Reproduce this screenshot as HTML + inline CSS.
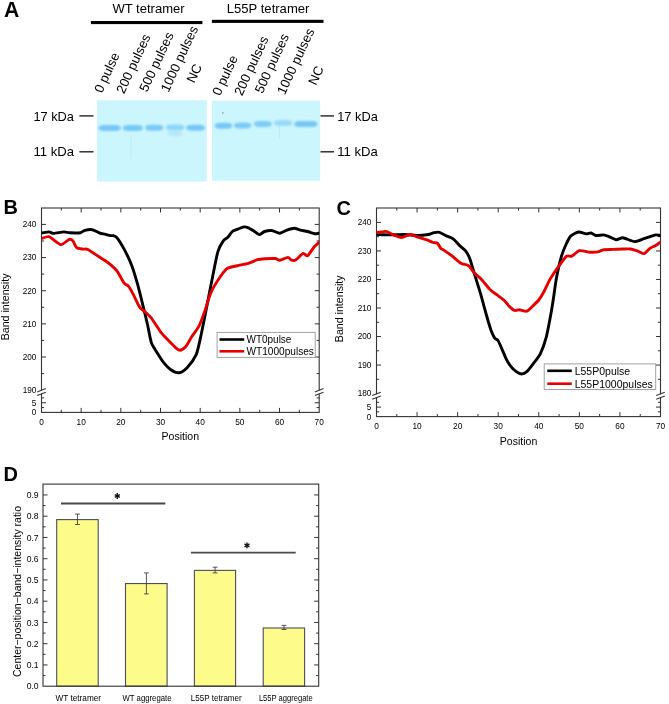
<!DOCTYPE html>
<html><head><meta charset="utf-8"><style>
html,body{margin:0;padding:0;background:#fff;width:669px;height:704px;overflow:hidden}
svg{display:block;will-change:transform}
text{font-family:"Liberation Sans", sans-serif}
</style></head><body>
<svg width="669" height="704" viewBox="0 0 669 704">
<text x="4.10" y="17.00" font-size="21.2" text-anchor="start" font-weight="bold" fill="#000">A</text>
<text x="112.40" y="13.00" font-size="13" text-anchor="start" textLength="72.3" lengthAdjust="spacingAndGlyphs">WT tetramer</text>
<rect x="90.9" y="21" width="111.5" height="3.1" fill="#000"/>
<text x="226.80" y="13.00" font-size="13" text-anchor="start" textLength="82.6" lengthAdjust="spacingAndGlyphs">L55P tetramer</text>
<rect x="211.9" y="19.8" width="111.6" height="3.1" fill="#000"/>
<text x="101.90" y="93.70" font-size="13.2" text-anchor="start" transform="rotate(-65 101.90 93.70)">0 pulse</text>
<text x="123.90" y="94.50" font-size="13.2" text-anchor="start" transform="rotate(-65 123.90 94.50)">200 pulses</text>
<text x="147.00" y="92.70" font-size="13.2" text-anchor="start" transform="rotate(-65 147.00 92.70)">500 pulses</text>
<text x="168.40" y="92.90" font-size="13.2" text-anchor="start" transform="rotate(-65 168.40 92.90)">1000 pulses</text>
<text x="194.20" y="83.80" font-size="13.2" text-anchor="start" transform="rotate(-65 194.20 83.80)">NC</text>
<text x="220.10" y="96.50" font-size="13.2" text-anchor="start" transform="rotate(-65 220.10 96.50)">0 pulse</text>
<text x="241.90" y="96.60" font-size="13.2" text-anchor="start" transform="rotate(-65 241.90 96.60)">200 pulses</text>
<text x="262.40" y="94.20" font-size="13.2" text-anchor="start" transform="rotate(-65 262.40 94.20)">500 pulses</text>
<text x="284.70" y="95.40" font-size="13.2" text-anchor="start" transform="rotate(-65 284.70 95.40)">1000 pulses</text>
<text x="316.00" y="85.90" font-size="13.2" text-anchor="start" transform="rotate(-65 316.00 85.90)">NC</text>
<defs><filter id="bl" x="-30%" y="-100%" width="160%" height="300%"><feGaussianBlur stdDeviation="1.2 0.9"/></filter><filter id="bl2" x="-20%" y="-100%" width="140%" height="300%"><feGaussianBlur stdDeviation="0.8"/></filter></defs>
<rect x="97" y="100.2" width="109.8" height="81.3" fill="#ccf6fd"/>
<rect x="212" y="100.7" width="108" height="80" fill="#ccf6fd"/>
<path d="M98.40,128.00 Q98.40,125.00 104.40,125.00 L114.80,125.00 Q120.80,125.00 120.80,128.00 Q120.80,131.00 114.80,131.00 L104.40,131.00 Q98.40,131.00 98.40,128.00 Z" fill="#76c7f7" opacity="1.0" filter="url(#bl)"/>
<path d="M122.80,127.90 Q122.80,124.90 128.80,124.90 L136.80,124.90 Q142.80,124.90 142.80,127.90 Q142.80,130.90 136.80,130.90 L128.80,130.90 Q122.80,130.90 122.80,127.90 Z" fill="#76c7f7" opacity="1.0" filter="url(#bl)"/>
<path d="M145.20,127.70 Q145.20,124.70 151.20,124.70 L157.40,124.70 Q163.40,124.70 163.40,127.70 Q163.40,130.70 157.40,130.70 L151.20,130.70 Q145.20,130.70 145.20,127.70 Z" fill="#76c7f7" opacity="0.95" filter="url(#bl)"/>
<path d="M165.80,127.60 Q165.80,124.60 171.80,124.60 L178.40,124.60 Q184.40,124.60 184.40,127.60 Q184.40,130.60 178.40,130.60 L171.80,130.60 Q165.80,130.60 165.80,127.60 Z" fill="#76c7f7" opacity="0.7" filter="url(#bl)"/>
<path d="M186.10,127.70 Q186.10,124.70 192.10,124.70 L199.00,124.70 Q205.00,124.70 205.00,127.70 Q205.00,130.70 199.00,130.70 L192.10,130.70 Q186.10,130.70 186.10,127.70 Z" fill="#76c7f7" opacity="1.0" filter="url(#bl)"/>
<path d="M214.80,125.70 Q214.80,122.70 220.80,122.70 L226.30,122.70 Q232.30,122.70 232.30,125.70 Q232.30,128.70 226.30,128.70 L220.80,128.70 Q214.80,128.70 214.80,125.70 Z" fill="#76c7f7" opacity="1.0" filter="url(#bl)"/>
<path d="M234.00,125.40 Q234.00,122.40 240.00,122.40 L245.30,122.40 Q251.30,122.40 251.30,125.40 Q251.30,128.40 245.30,128.40 L240.00,128.40 Q234.00,128.40 234.00,125.40 Z" fill="#76c7f7" opacity="0.95" filter="url(#bl)"/>
<path d="M253.80,124.00 Q253.80,121.00 259.80,121.00 L265.90,121.00 Q271.90,121.00 271.90,124.00 Q271.90,127.00 265.90,127.00 L259.80,127.00 Q253.80,127.00 253.80,124.00 Z" fill="#76c7f7" opacity="0.9" filter="url(#bl)"/>
<path d="M274.00,123.00 Q274.00,120.00 280.00,120.00 L286.20,120.00 Q292.20,120.00 292.20,123.00 Q292.20,126.00 286.20,126.00 L280.00,126.00 Q274.00,126.00 274.00,123.00 Z" fill="#76c7f7" opacity="0.6" filter="url(#bl)"/>
<path d="M294.20,124.00 Q294.20,121.00 300.20,121.00 L311.40,121.00 Q317.40,121.00 317.40,124.00 Q317.40,127.00 311.40,127.00 L300.20,127.00 Q294.20,127.00 294.20,124.00 Z" fill="#76c7f7" opacity="1.0" filter="url(#bl)"/>
<line x1="131.1" y1="135.5" x2="130.8" y2="158.5" stroke="#9ad6f4" stroke-width="0.8" opacity="0.45"/>
<ellipse cx="175" cy="133.5" rx="8" ry="3" fill="#a8def6" opacity="0.6" filter="url(#bl)"/>
<line x1="279.3" y1="126" x2="279.5" y2="138.5" stroke="#9ad6f4" stroke-width="0.8" opacity="0.45"/>
<circle cx="222.9" cy="112.9" r="0.6" fill="#557"/>
<line x1="79.40" y1="115.90" x2="93.50" y2="115.90" stroke="#222" stroke-width="1.4" stroke-linecap="butt"/>
<line x1="79.40" y1="151.80" x2="93.50" y2="151.80" stroke="#222" stroke-width="1.4" stroke-linecap="butt"/>
<text x="74.00" y="120.90" font-size="13" text-anchor="end" textLength="40.6" lengthAdjust="spacingAndGlyphs">17 kDa</text>
<text x="74.00" y="156.20" font-size="13" text-anchor="end" textLength="40.6" lengthAdjust="spacingAndGlyphs">11 kDa</text>
<line x1="320.50" y1="115.90" x2="334.00" y2="115.90" stroke="#222" stroke-width="1.4" stroke-linecap="butt"/>
<line x1="320.50" y1="151.80" x2="334.00" y2="151.80" stroke="#222" stroke-width="1.4" stroke-linecap="butt"/>
<text x="337.20" y="120.90" font-size="13" text-anchor="start" textLength="40.6" lengthAdjust="spacingAndGlyphs">17 kDa</text>
<text x="337.20" y="156.20" font-size="13" text-anchor="start" textLength="40.6" lengthAdjust="spacingAndGlyphs">11 kDa</text>
<rect x="41.5" y="208.0" width="277.7" height="204.39999999999998" fill="none" stroke="#333" stroke-width="1.1"/>
<line x1="61.34" y1="412.40" x2="61.34" y2="409.80" stroke="#333" stroke-width="1" stroke-linecap="butt"/>
<line x1="61.34" y1="208.00" x2="61.34" y2="210.60" stroke="#333" stroke-width="1" stroke-linecap="butt"/>
<line x1="81.17" y1="412.40" x2="81.17" y2="407.90" stroke="#333" stroke-width="1" stroke-linecap="butt"/>
<line x1="81.17" y1="208.00" x2="81.17" y2="212.50" stroke="#333" stroke-width="1" stroke-linecap="butt"/>
<line x1="101.01" y1="412.40" x2="101.01" y2="409.80" stroke="#333" stroke-width="1" stroke-linecap="butt"/>
<line x1="101.01" y1="208.00" x2="101.01" y2="210.60" stroke="#333" stroke-width="1" stroke-linecap="butt"/>
<line x1="120.84" y1="412.40" x2="120.84" y2="407.90" stroke="#333" stroke-width="1" stroke-linecap="butt"/>
<line x1="120.84" y1="208.00" x2="120.84" y2="212.50" stroke="#333" stroke-width="1" stroke-linecap="butt"/>
<line x1="140.68" y1="412.40" x2="140.68" y2="409.80" stroke="#333" stroke-width="1" stroke-linecap="butt"/>
<line x1="140.68" y1="208.00" x2="140.68" y2="210.60" stroke="#333" stroke-width="1" stroke-linecap="butt"/>
<line x1="160.51" y1="412.40" x2="160.51" y2="407.90" stroke="#333" stroke-width="1" stroke-linecap="butt"/>
<line x1="160.51" y1="208.00" x2="160.51" y2="212.50" stroke="#333" stroke-width="1" stroke-linecap="butt"/>
<line x1="180.35" y1="412.40" x2="180.35" y2="409.80" stroke="#333" stroke-width="1" stroke-linecap="butt"/>
<line x1="180.35" y1="208.00" x2="180.35" y2="210.60" stroke="#333" stroke-width="1" stroke-linecap="butt"/>
<line x1="200.19" y1="412.40" x2="200.19" y2="407.90" stroke="#333" stroke-width="1" stroke-linecap="butt"/>
<line x1="200.19" y1="208.00" x2="200.19" y2="212.50" stroke="#333" stroke-width="1" stroke-linecap="butt"/>
<line x1="220.02" y1="412.40" x2="220.02" y2="409.80" stroke="#333" stroke-width="1" stroke-linecap="butt"/>
<line x1="220.02" y1="208.00" x2="220.02" y2="210.60" stroke="#333" stroke-width="1" stroke-linecap="butt"/>
<line x1="239.86" y1="412.40" x2="239.86" y2="407.90" stroke="#333" stroke-width="1" stroke-linecap="butt"/>
<line x1="239.86" y1="208.00" x2="239.86" y2="212.50" stroke="#333" stroke-width="1" stroke-linecap="butt"/>
<line x1="259.69" y1="412.40" x2="259.69" y2="409.80" stroke="#333" stroke-width="1" stroke-linecap="butt"/>
<line x1="259.69" y1="208.00" x2="259.69" y2="210.60" stroke="#333" stroke-width="1" stroke-linecap="butt"/>
<line x1="279.53" y1="412.40" x2="279.53" y2="407.90" stroke="#333" stroke-width="1" stroke-linecap="butt"/>
<line x1="279.53" y1="208.00" x2="279.53" y2="212.50" stroke="#333" stroke-width="1" stroke-linecap="butt"/>
<line x1="299.36" y1="412.40" x2="299.36" y2="409.80" stroke="#333" stroke-width="1" stroke-linecap="butt"/>
<line x1="299.36" y1="208.00" x2="299.36" y2="210.60" stroke="#333" stroke-width="1" stroke-linecap="butt"/>
<text x="41.50" y="425.00" font-size="8.3" text-anchor="middle">0</text>
<text x="81.17" y="425.00" font-size="8.3" text-anchor="middle">10</text>
<text x="120.84" y="425.00" font-size="8.3" text-anchor="middle">20</text>
<text x="160.51" y="425.00" font-size="8.3" text-anchor="middle">30</text>
<text x="200.19" y="425.00" font-size="8.3" text-anchor="middle">40</text>
<text x="239.86" y="425.00" font-size="8.3" text-anchor="middle">50</text>
<text x="279.53" y="425.00" font-size="8.3" text-anchor="middle">60</text>
<text x="319.20" y="425.00" font-size="8.3" text-anchor="middle">70</text>
<line x1="41.50" y1="373.58" x2="44.10" y2="373.58" stroke="#333" stroke-width="1" stroke-linecap="butt"/>
<line x1="319.20" y1="373.58" x2="316.60" y2="373.58" stroke="#333" stroke-width="1" stroke-linecap="butt"/>
<line x1="41.50" y1="357.00" x2="46.00" y2="357.00" stroke="#333" stroke-width="1" stroke-linecap="butt"/>
<line x1="319.20" y1="357.00" x2="314.70" y2="357.00" stroke="#333" stroke-width="1" stroke-linecap="butt"/>
<text x="36.30" y="359.90" font-size="8.2" text-anchor="end">200</text>
<line x1="41.50" y1="340.43" x2="44.10" y2="340.43" stroke="#333" stroke-width="1" stroke-linecap="butt"/>
<line x1="319.20" y1="340.43" x2="316.60" y2="340.43" stroke="#333" stroke-width="1" stroke-linecap="butt"/>
<line x1="41.50" y1="323.85" x2="46.00" y2="323.85" stroke="#333" stroke-width="1" stroke-linecap="butt"/>
<line x1="319.20" y1="323.85" x2="314.70" y2="323.85" stroke="#333" stroke-width="1" stroke-linecap="butt"/>
<text x="36.30" y="326.75" font-size="8.2" text-anchor="end">210</text>
<line x1="41.50" y1="307.27" x2="44.10" y2="307.27" stroke="#333" stroke-width="1" stroke-linecap="butt"/>
<line x1="319.20" y1="307.27" x2="316.60" y2="307.27" stroke="#333" stroke-width="1" stroke-linecap="butt"/>
<line x1="41.50" y1="290.70" x2="46.00" y2="290.70" stroke="#333" stroke-width="1" stroke-linecap="butt"/>
<line x1="319.20" y1="290.70" x2="314.70" y2="290.70" stroke="#333" stroke-width="1" stroke-linecap="butt"/>
<text x="36.30" y="293.60" font-size="8.2" text-anchor="end">220</text>
<line x1="41.50" y1="274.12" x2="44.10" y2="274.12" stroke="#333" stroke-width="1" stroke-linecap="butt"/>
<line x1="319.20" y1="274.12" x2="316.60" y2="274.12" stroke="#333" stroke-width="1" stroke-linecap="butt"/>
<line x1="41.50" y1="257.55" x2="46.00" y2="257.55" stroke="#333" stroke-width="1" stroke-linecap="butt"/>
<line x1="319.20" y1="257.55" x2="314.70" y2="257.55" stroke="#333" stroke-width="1" stroke-linecap="butt"/>
<text x="36.30" y="260.45" font-size="8.2" text-anchor="end">230</text>
<line x1="41.50" y1="240.97" x2="44.10" y2="240.97" stroke="#333" stroke-width="1" stroke-linecap="butt"/>
<line x1="319.20" y1="240.97" x2="316.60" y2="240.97" stroke="#333" stroke-width="1" stroke-linecap="butt"/>
<line x1="41.50" y1="224.40" x2="46.00" y2="224.40" stroke="#333" stroke-width="1" stroke-linecap="butt"/>
<line x1="319.20" y1="224.40" x2="314.70" y2="224.40" stroke="#333" stroke-width="1" stroke-linecap="butt"/>
<text x="36.30" y="227.30" font-size="8.2" text-anchor="end">240</text>
<line x1="41.50" y1="407.57" x2="44.10" y2="407.57" stroke="#333" stroke-width="1" stroke-linecap="butt"/>
<line x1="319.20" y1="407.57" x2="316.60" y2="407.57" stroke="#333" stroke-width="1" stroke-linecap="butt"/>
<line x1="41.50" y1="402.75" x2="46.00" y2="402.75" stroke="#333" stroke-width="1" stroke-linecap="butt"/>
<line x1="319.20" y1="402.75" x2="314.70" y2="402.75" stroke="#333" stroke-width="1" stroke-linecap="butt"/>
<line x1="41.50" y1="397.92" x2="44.10" y2="397.92" stroke="#333" stroke-width="1" stroke-linecap="butt"/>
<line x1="319.20" y1="397.92" x2="316.60" y2="397.92" stroke="#333" stroke-width="1" stroke-linecap="butt"/>
<text x="36.30" y="393.05" font-size="8.2" text-anchor="end">190</text>
<text x="36.30" y="405.65" font-size="8.2" text-anchor="end">5</text>
<text x="36.30" y="415.30" font-size="8.2" text-anchor="end">0</text>
<polygon points="37.2,392.2 45.8,388.8 45.8,391.9 37.2,395.29999999999995" fill="#fff"/>
<line x1="37.20" y1="391.90" x2="45.80" y2="388.50" stroke="#333" stroke-width="1.1" stroke-linecap="butt"/>
<line x1="37.20" y1="395.60" x2="45.80" y2="392.20" stroke="#333" stroke-width="1.1" stroke-linecap="butt"/>
<polygon points="314.9,392.2 323.5,388.8 323.5,391.9 314.9,395.29999999999995" fill="#fff"/>
<line x1="314.90" y1="391.90" x2="323.50" y2="388.50" stroke="#333" stroke-width="1.1" stroke-linecap="butt"/>
<line x1="314.90" y1="395.60" x2="323.50" y2="392.20" stroke="#333" stroke-width="1.1" stroke-linecap="butt"/>
<text x="3.40" y="213.80" font-size="20.0" text-anchor="start" font-weight="bold" fill="#000">B</text>
<text x="9.10" y="306.90" font-size="10.5" text-anchor="middle" textLength="66.8" lengthAdjust="spacingAndGlyphs" transform="rotate(-90 9.1 306.9)">Band intensity</text>
<text x="180.35" y="439.90" font-size="10.5" text-anchor="middle" textLength="37.5" lengthAdjust="spacingAndGlyphs">Position</text>
<rect x="376.5" y="208.0" width="284.0" height="208.60000000000002" fill="none" stroke="#333" stroke-width="1.1"/>
<line x1="396.79" y1="416.60" x2="396.79" y2="414.00" stroke="#333" stroke-width="1" stroke-linecap="butt"/>
<line x1="396.79" y1="208.00" x2="396.79" y2="210.60" stroke="#333" stroke-width="1" stroke-linecap="butt"/>
<line x1="417.07" y1="416.60" x2="417.07" y2="412.10" stroke="#333" stroke-width="1" stroke-linecap="butt"/>
<line x1="417.07" y1="208.00" x2="417.07" y2="212.50" stroke="#333" stroke-width="1" stroke-linecap="butt"/>
<line x1="437.36" y1="416.60" x2="437.36" y2="414.00" stroke="#333" stroke-width="1" stroke-linecap="butt"/>
<line x1="437.36" y1="208.00" x2="437.36" y2="210.60" stroke="#333" stroke-width="1" stroke-linecap="butt"/>
<line x1="457.64" y1="416.60" x2="457.64" y2="412.10" stroke="#333" stroke-width="1" stroke-linecap="butt"/>
<line x1="457.64" y1="208.00" x2="457.64" y2="212.50" stroke="#333" stroke-width="1" stroke-linecap="butt"/>
<line x1="477.93" y1="416.60" x2="477.93" y2="414.00" stroke="#333" stroke-width="1" stroke-linecap="butt"/>
<line x1="477.93" y1="208.00" x2="477.93" y2="210.60" stroke="#333" stroke-width="1" stroke-linecap="butt"/>
<line x1="498.21" y1="416.60" x2="498.21" y2="412.10" stroke="#333" stroke-width="1" stroke-linecap="butt"/>
<line x1="498.21" y1="208.00" x2="498.21" y2="212.50" stroke="#333" stroke-width="1" stroke-linecap="butt"/>
<line x1="518.50" y1="416.60" x2="518.50" y2="414.00" stroke="#333" stroke-width="1" stroke-linecap="butt"/>
<line x1="518.50" y1="208.00" x2="518.50" y2="210.60" stroke="#333" stroke-width="1" stroke-linecap="butt"/>
<line x1="538.79" y1="416.60" x2="538.79" y2="412.10" stroke="#333" stroke-width="1" stroke-linecap="butt"/>
<line x1="538.79" y1="208.00" x2="538.79" y2="212.50" stroke="#333" stroke-width="1" stroke-linecap="butt"/>
<line x1="559.07" y1="416.60" x2="559.07" y2="414.00" stroke="#333" stroke-width="1" stroke-linecap="butt"/>
<line x1="559.07" y1="208.00" x2="559.07" y2="210.60" stroke="#333" stroke-width="1" stroke-linecap="butt"/>
<line x1="579.36" y1="416.60" x2="579.36" y2="412.10" stroke="#333" stroke-width="1" stroke-linecap="butt"/>
<line x1="579.36" y1="208.00" x2="579.36" y2="212.50" stroke="#333" stroke-width="1" stroke-linecap="butt"/>
<line x1="599.64" y1="416.60" x2="599.64" y2="414.00" stroke="#333" stroke-width="1" stroke-linecap="butt"/>
<line x1="599.64" y1="208.00" x2="599.64" y2="210.60" stroke="#333" stroke-width="1" stroke-linecap="butt"/>
<line x1="619.93" y1="416.60" x2="619.93" y2="412.10" stroke="#333" stroke-width="1" stroke-linecap="butt"/>
<line x1="619.93" y1="208.00" x2="619.93" y2="212.50" stroke="#333" stroke-width="1" stroke-linecap="butt"/>
<line x1="640.21" y1="416.60" x2="640.21" y2="414.00" stroke="#333" stroke-width="1" stroke-linecap="butt"/>
<line x1="640.21" y1="208.00" x2="640.21" y2="210.60" stroke="#333" stroke-width="1" stroke-linecap="butt"/>
<text x="376.50" y="429.20" font-size="8.3" text-anchor="middle">0</text>
<text x="417.07" y="429.20" font-size="8.3" text-anchor="middle">10</text>
<text x="457.64" y="429.20" font-size="8.3" text-anchor="middle">20</text>
<text x="498.21" y="429.20" font-size="8.3" text-anchor="middle">30</text>
<text x="538.79" y="429.20" font-size="8.3" text-anchor="middle">40</text>
<text x="579.36" y="429.20" font-size="8.3" text-anchor="middle">50</text>
<text x="619.93" y="429.20" font-size="8.3" text-anchor="middle">60</text>
<text x="660.50" y="429.20" font-size="8.3" text-anchor="middle">70</text>
<line x1="376.50" y1="379.32" x2="379.10" y2="379.32" stroke="#333" stroke-width="1" stroke-linecap="butt"/>
<line x1="660.50" y1="379.32" x2="657.90" y2="379.32" stroke="#333" stroke-width="1" stroke-linecap="butt"/>
<line x1="376.50" y1="365.05" x2="381.00" y2="365.05" stroke="#333" stroke-width="1" stroke-linecap="butt"/>
<line x1="660.50" y1="365.05" x2="656.00" y2="365.05" stroke="#333" stroke-width="1" stroke-linecap="butt"/>
<text x="371.30" y="367.95" font-size="8.2" text-anchor="end">190</text>
<line x1="376.50" y1="350.79" x2="379.10" y2="350.79" stroke="#333" stroke-width="1" stroke-linecap="butt"/>
<line x1="660.50" y1="350.79" x2="657.90" y2="350.79" stroke="#333" stroke-width="1" stroke-linecap="butt"/>
<line x1="376.50" y1="336.52" x2="381.00" y2="336.52" stroke="#333" stroke-width="1" stroke-linecap="butt"/>
<line x1="660.50" y1="336.52" x2="656.00" y2="336.52" stroke="#333" stroke-width="1" stroke-linecap="butt"/>
<text x="371.30" y="339.42" font-size="8.2" text-anchor="end">200</text>
<line x1="376.50" y1="322.25" x2="379.10" y2="322.25" stroke="#333" stroke-width="1" stroke-linecap="butt"/>
<line x1="660.50" y1="322.25" x2="657.90" y2="322.25" stroke="#333" stroke-width="1" stroke-linecap="butt"/>
<line x1="376.50" y1="307.99" x2="381.00" y2="307.99" stroke="#333" stroke-width="1" stroke-linecap="butt"/>
<line x1="660.50" y1="307.99" x2="656.00" y2="307.99" stroke="#333" stroke-width="1" stroke-linecap="butt"/>
<text x="371.30" y="310.89" font-size="8.2" text-anchor="end">210</text>
<line x1="376.50" y1="293.73" x2="379.10" y2="293.73" stroke="#333" stroke-width="1" stroke-linecap="butt"/>
<line x1="660.50" y1="293.73" x2="657.90" y2="293.73" stroke="#333" stroke-width="1" stroke-linecap="butt"/>
<line x1="376.50" y1="279.46" x2="381.00" y2="279.46" stroke="#333" stroke-width="1" stroke-linecap="butt"/>
<line x1="660.50" y1="279.46" x2="656.00" y2="279.46" stroke="#333" stroke-width="1" stroke-linecap="butt"/>
<text x="371.30" y="282.36" font-size="8.2" text-anchor="end">220</text>
<line x1="376.50" y1="265.19" x2="379.10" y2="265.19" stroke="#333" stroke-width="1" stroke-linecap="butt"/>
<line x1="660.50" y1="265.19" x2="657.90" y2="265.19" stroke="#333" stroke-width="1" stroke-linecap="butt"/>
<line x1="376.50" y1="250.93" x2="381.00" y2="250.93" stroke="#333" stroke-width="1" stroke-linecap="butt"/>
<line x1="660.50" y1="250.93" x2="656.00" y2="250.93" stroke="#333" stroke-width="1" stroke-linecap="butt"/>
<text x="371.30" y="253.83" font-size="8.2" text-anchor="end">230</text>
<line x1="376.50" y1="236.67" x2="379.10" y2="236.67" stroke="#333" stroke-width="1" stroke-linecap="butt"/>
<line x1="660.50" y1="236.67" x2="657.90" y2="236.67" stroke="#333" stroke-width="1" stroke-linecap="butt"/>
<line x1="376.50" y1="222.40" x2="381.00" y2="222.40" stroke="#333" stroke-width="1" stroke-linecap="butt"/>
<line x1="660.50" y1="222.40" x2="656.00" y2="222.40" stroke="#333" stroke-width="1" stroke-linecap="butt"/>
<text x="371.30" y="225.30" font-size="8.2" text-anchor="end">240</text>
<line x1="376.50" y1="411.85" x2="379.10" y2="411.85" stroke="#333" stroke-width="1" stroke-linecap="butt"/>
<line x1="660.50" y1="411.85" x2="657.90" y2="411.85" stroke="#333" stroke-width="1" stroke-linecap="butt"/>
<line x1="376.50" y1="407.10" x2="381.00" y2="407.10" stroke="#333" stroke-width="1" stroke-linecap="butt"/>
<line x1="660.50" y1="407.10" x2="656.00" y2="407.10" stroke="#333" stroke-width="1" stroke-linecap="butt"/>
<line x1="376.50" y1="402.35" x2="379.10" y2="402.35" stroke="#333" stroke-width="1" stroke-linecap="butt"/>
<line x1="660.50" y1="402.35" x2="657.90" y2="402.35" stroke="#333" stroke-width="1" stroke-linecap="butt"/>
<text x="371.30" y="396.48" font-size="8.2" text-anchor="end">180</text>
<text x="371.30" y="410.00" font-size="8.2" text-anchor="end">5</text>
<text x="371.30" y="419.50" font-size="8.2" text-anchor="end">0</text>
<polygon points="372.2,395.9 380.8,392.5 380.8,395.6 372.2,399.0" fill="#fff"/>
<line x1="372.20" y1="395.60" x2="380.80" y2="392.20" stroke="#333" stroke-width="1.1" stroke-linecap="butt"/>
<line x1="372.20" y1="399.30" x2="380.80" y2="395.90" stroke="#333" stroke-width="1.1" stroke-linecap="butt"/>
<polygon points="656.2,395.9 664.8,392.5 664.8,395.6 656.2,399.0" fill="#fff"/>
<line x1="656.20" y1="395.60" x2="664.80" y2="392.20" stroke="#333" stroke-width="1.1" stroke-linecap="butt"/>
<line x1="656.20" y1="399.30" x2="664.80" y2="395.90" stroke="#333" stroke-width="1.1" stroke-linecap="butt"/>
<text x="336.40" y="214.50" font-size="20.0" text-anchor="start" font-weight="bold" fill="#000">C</text>
<text x="343.50" y="308.80" font-size="10.5" text-anchor="middle" textLength="66.8" lengthAdjust="spacingAndGlyphs" transform="rotate(-90 343.5 308.8)">Band intensity</text>
<text x="518.50" y="444.70" font-size="10.5" text-anchor="middle" textLength="37.5" lengthAdjust="spacingAndGlyphs">Position</text>
<defs><clipPath id="cB"><rect x="41.5" y="208.0" width="277.7" height="204.39999999999998"/></clipPath><clipPath id="cC"><rect x="376.5" y="208.0" width="284.0" height="208.60000000000002"/></clipPath></defs>
<path d="M38.50,233.10 C38.85,233.10 40.27,233.24 41.50,233.10 C42.73,232.96 47.60,231.87 49.00,231.90 C50.40,231.94 51.76,233.40 53.50,233.40 C55.24,233.40 61.99,231.97 63.90,231.90 C65.81,231.83 67.98,232.71 69.90,232.80 C71.83,232.89 78.66,232.98 80.40,232.70 C82.14,232.42 83.41,230.75 84.80,230.40 C86.19,230.05 90.55,229.38 92.30,229.70 C94.05,230.01 98.32,232.57 99.80,233.10 C101.28,233.62 103.78,233.91 105.00,234.20 C106.22,234.49 109.31,235.42 110.30,235.60 C111.29,235.78 112.71,235.44 113.50,235.70 C114.29,235.96 115.77,236.06 117.10,237.80 C118.43,239.54 123.16,247.29 124.90,250.60 C126.64,253.91 130.51,262.22 132.00,266.20 C133.49,270.18 136.37,279.89 137.70,284.70 C139.03,289.51 142.25,302.70 143.40,307.40 C144.56,312.10 146.67,320.87 147.60,325.00 C148.53,329.13 150.26,339.51 151.40,342.80 C152.54,346.09 156.01,350.94 157.40,353.20 C158.79,355.46 161.74,360.27 163.30,362.20 C164.86,364.12 168.97,368.47 170.80,369.70 C172.63,370.93 177.07,372.97 179.00,372.70 C180.93,372.43 185.29,369.50 187.30,367.40 C189.31,365.30 194.64,358.27 196.20,354.70 C197.76,351.13 199.47,342.38 200.70,336.80 C201.92,331.22 205.31,313.91 206.70,306.90 C208.09,299.89 211.29,283.15 212.60,276.70 C213.91,270.25 216.65,255.78 217.90,251.60 C219.15,247.42 222.15,242.57 223.30,240.90 C224.46,239.23 226.75,238.40 227.80,237.30 C228.85,236.20 231.15,232.44 232.30,231.50 C233.46,230.56 236.35,229.74 237.70,229.20 C239.05,228.66 242.65,227.06 243.90,226.90 C245.15,226.74 247.25,227.32 248.40,227.80 C249.56,228.28 252.54,230.21 253.80,231.00 C255.06,231.79 257.94,234.54 259.20,234.60 C260.46,234.66 263.14,231.98 264.60,231.50 C266.06,231.02 269.93,230.30 271.70,230.50 C273.47,230.70 278.01,233.25 279.80,233.20 C281.59,233.15 285.32,230.67 287.00,230.10 C288.68,229.53 292.64,228.30 294.20,228.30 C295.76,228.30 298.84,229.73 300.40,230.10 C301.96,230.47 305.92,231.08 307.60,231.50 C309.28,231.92 313.50,233.49 314.80,233.70 C316.10,233.91 317.89,233.35 318.70,233.30 C319.50,233.25 321.35,233.30 321.70,233.30" fill="none" stroke="#000" stroke-width="2.9" stroke-linejoin="round" stroke-linecap="round" clip-path="url(#cB)"/>
<path d="M38.50,239.10 C38.85,239.04 40.27,238.88 41.50,238.60 C42.73,238.32 46.74,236.00 49.00,236.70 C51.26,237.40 58.55,244.28 60.90,244.60 C63.24,244.91 67.70,239.83 69.10,239.40 C70.50,238.97 72.03,239.94 72.90,240.90 C73.78,241.86 75.39,246.64 76.60,247.60 C77.81,248.56 81.99,248.88 83.30,249.10 C84.61,249.32 85.88,248.54 87.80,249.50 C89.72,250.46 97.79,256.02 99.80,257.30 C101.81,258.58 103.73,259.62 105.00,260.50 C106.27,261.38 109.29,263.55 110.70,264.80 C112.11,266.05 115.52,269.05 117.10,271.20 C118.67,273.35 122.88,281.46 124.20,283.20 C125.52,284.94 127.33,284.77 128.40,286.10 C129.47,287.43 132.07,292.12 133.40,294.60 C134.73,297.09 138.47,305.42 139.80,307.40 C141.13,309.38 143.45,310.35 144.80,311.60 C146.15,312.85 149.58,315.77 151.40,318.10 C153.22,320.43 158.49,329.07 160.40,331.60 C162.31,334.13 166.06,337.97 167.80,339.80 C169.54,341.63 173.90,346.07 175.30,347.30 C176.70,348.53 178.58,350.39 179.80,350.30 C181.03,350.21 184.41,348.07 185.80,346.50 C187.19,344.93 190.14,339.24 191.70,336.80 C193.26,334.36 197.62,328.74 199.20,325.60 C200.77,322.46 203.85,313.71 205.20,309.90 C206.55,306.08 209.32,296.35 210.80,292.90 C212.28,289.45 216.02,283.12 217.90,280.30 C219.78,277.48 224.80,270.37 226.90,268.70 C229.00,267.03 233.39,266.63 235.90,266.00 C238.41,265.37 245.89,264.04 248.40,263.30 C250.91,262.56 255.51,260.22 257.40,259.70 C259.29,259.18 262.51,258.94 264.60,258.80 C266.69,258.66 273.53,258.34 275.30,258.50 C277.07,258.66 278.33,260.33 279.80,260.20 C281.27,260.07 286.53,257.40 287.90,257.40 C289.26,257.40 290.56,259.93 291.50,260.20 C292.44,260.47 294.65,260.49 296.00,259.70 C297.35,258.91 301.75,253.85 303.10,253.40 C304.45,252.95 306.34,256.52 307.60,255.80 C308.86,255.08 312.60,248.73 313.90,247.20 C315.19,245.67 317.79,243.52 318.70,242.70 C319.61,241.88 321.35,240.49 321.70,240.20" fill="none" stroke="#e60000" stroke-width="2.9" stroke-linejoin="round" stroke-linecap="round" clip-path="url(#cB)"/>
<path d="M373.60,234.50 C373.95,234.50 375.41,234.47 376.60,234.50 C377.79,234.53 381.91,234.77 383.80,234.80 C385.69,234.84 390.29,234.84 392.80,234.80 C395.31,234.77 402.58,234.43 405.30,234.50 C408.02,234.57 413.58,235.37 416.10,235.40 C418.62,235.44 424.81,235.12 426.90,234.80 C428.99,234.49 432.54,232.99 434.00,232.70 C435.46,232.41 438.00,231.95 439.40,232.30 C440.80,232.65 444.36,234.91 446.00,235.70 C447.64,236.49 451.94,237.97 453.50,239.10 C455.06,240.23 458.01,244.06 459.40,245.40 C460.79,246.74 464.17,249.03 465.40,250.60 C466.62,252.17 468.85,256.19 469.90,258.90 C470.95,261.61 473.17,269.80 474.40,273.80 C475.62,277.80 479.00,288.39 480.40,293.20 C481.80,298.01 485.17,310.72 486.40,315.00 C487.62,319.28 489.93,327.20 490.90,329.90 C491.87,332.59 493.82,336.79 494.70,338.10 C495.57,339.41 497.09,338.74 498.40,341.10 C499.71,343.46 504.50,355.42 505.90,358.30 C507.30,361.18 509.19,364.24 510.40,365.80 C511.61,367.36 514.99,370.74 516.30,371.70 C517.61,372.66 520.38,374.00 521.60,374.00 C522.83,374.00 525.49,372.83 526.80,371.70 C528.11,370.57 531.22,366.39 532.80,364.30 C534.38,362.21 538.74,356.94 540.30,353.80 C541.86,350.66 544.99,341.93 546.20,337.40 C547.41,332.87 549.88,319.36 550.70,315.00 C551.52,310.64 552.54,304.28 553.20,300.00 C553.87,295.72 555.47,283.31 556.40,278.30 C557.33,273.30 560.08,261.04 561.20,257.10 C562.32,253.16 564.87,246.97 566.00,244.50 C567.13,242.03 569.43,237.36 570.90,235.90 C572.37,234.44 576.80,232.23 578.60,232.00 C580.40,231.77 584.84,233.78 586.30,233.90 C587.76,234.02 589.98,232.81 591.10,233.00 C592.22,233.19 594.44,235.28 595.90,235.50 C597.36,235.72 602.02,234.75 603.60,234.90 C605.18,235.05 607.93,236.24 609.40,236.80 C610.87,237.36 614.62,239.58 616.20,239.70 C617.78,239.82 620.76,237.58 622.90,237.80 C625.03,238.02 632.03,241.50 634.50,241.60 C636.97,241.70 641.63,239.48 644.10,238.70 C646.57,237.92 653.86,235.27 655.70,234.90 C657.54,234.53 659.06,235.43 659.90,235.50 C660.74,235.57 662.55,235.50 662.90,235.50" fill="none" stroke="#000" stroke-width="2.9" stroke-linejoin="round" stroke-linecap="round" clip-path="url(#cC)"/>
<path d="M373.60,232.70 C373.95,232.70 375.20,232.85 376.60,232.70 C378.00,232.55 384.13,231.40 385.60,231.40 C387.07,231.40 388.15,232.23 389.20,232.70 C390.25,233.17 393.14,234.84 394.60,235.40 C396.06,235.96 399.82,237.60 401.70,237.50 C403.58,237.40 408.81,234.53 410.70,234.50 C412.59,234.47 416.01,236.58 417.90,237.20 C419.79,237.82 425.13,239.18 426.90,239.80 C428.67,240.42 431.85,242.08 433.10,242.50 C434.35,242.92 436.73,242.74 437.60,243.40 C438.48,244.06 439.80,247.36 440.60,248.20 C441.41,249.04 443.17,249.70 444.50,250.60 C445.83,251.50 450.09,254.42 452.00,255.90 C453.91,257.38 458.99,262.17 460.90,263.30 C462.81,264.43 466.82,264.46 468.40,265.60 C469.97,266.74 473.00,271.62 474.40,273.10 C475.80,274.58 478.49,276.29 480.40,278.30 C482.31,280.31 488.89,288.39 490.80,290.30 C492.71,292.21 495.23,293.51 496.80,294.70 C498.38,295.89 502.89,299.18 504.30,300.50 C505.71,301.82 507.68,304.83 508.90,306.00 C510.12,307.17 513.59,310.07 514.80,310.50 C516.01,310.93 517.90,309.62 519.30,309.70 C520.70,309.78 525.22,311.63 526.80,311.20 C528.38,310.77 531.40,307.31 532.80,306.00 C534.20,304.69 537.50,301.66 538.80,300.00 C540.09,298.34 542.52,294.33 543.90,291.80 C545.28,289.27 548.58,281.68 550.60,278.30 C552.62,274.92 559.29,265.39 561.20,262.80 C563.11,260.21 565.76,256.88 567.00,256.10 C568.24,255.32 570.34,256.73 571.80,256.10 C573.26,255.47 577.37,251.16 579.50,250.70 C581.63,250.24 587.95,252.06 590.10,252.20 C592.25,252.34 596.32,252.19 597.90,251.90 C599.48,251.61 601.80,249.99 603.60,249.70 C605.40,249.41 611.05,249.48 613.30,249.40 C615.55,249.32 620.88,249.05 622.90,249.00 C624.92,248.95 628.80,248.73 630.60,249.00 C632.40,249.27 636.72,250.76 638.30,251.30 C639.88,251.84 642.75,253.94 644.10,253.60 C645.45,253.26 648.55,249.34 649.90,248.40 C651.25,247.46 654.53,246.18 655.70,245.50 C656.87,244.82 659.06,243.11 659.90,242.60 C660.74,242.09 662.55,241.28 662.90,241.10" fill="none" stroke="#e60000" stroke-width="2.9" stroke-linejoin="round" stroke-linecap="round" clip-path="url(#cC)"/>
<rect x="217.1" y="332.4" width="98.1" height="25.0" fill="#fff" stroke="#999" stroke-width="0.9"/>
<line x1="219.50" y1="339.50" x2="244.20" y2="339.50" stroke="#000" stroke-width="2.6" stroke-linecap="butt"/>
<line x1="219.50" y1="351.30" x2="244.20" y2="351.30" stroke="#e60000" stroke-width="2.6" stroke-linecap="butt"/>
<text x="246.50" y="343.10" font-size="10.1" text-anchor="start" textLength="44.9" lengthAdjust="spacingAndGlyphs">WT0pulse</text>
<text x="246.50" y="355.40" font-size="10.1" text-anchor="start" textLength="67.4" lengthAdjust="spacingAndGlyphs">WT1000pulses</text>
<rect x="544.2" y="363.9" width="111.5" height="25.600000000000023" fill="#fff" stroke="#999" stroke-width="0.9"/>
<line x1="547.30" y1="370.80" x2="571.80" y2="370.80" stroke="#000" stroke-width="2.6" stroke-linecap="butt"/>
<line x1="547.30" y1="383.70" x2="571.80" y2="383.70" stroke="#e60000" stroke-width="2.6" stroke-linecap="butt"/>
<text x="574.70" y="375.00" font-size="10.1" text-anchor="start" textLength="55.5" lengthAdjust="spacingAndGlyphs">L55P0pulse</text>
<text x="574.70" y="387.80" font-size="10.1" text-anchor="start" textLength="78.1" lengthAdjust="spacingAndGlyphs">L55P1000pulses</text>
<text x="3.50" y="481.40" font-size="20.0" text-anchor="start" font-weight="bold" fill="#000">D</text>
<rect x="56.7" y="519.60" width="41.5" height="166.60" fill="#fdfb8a" stroke="#4d4d5a" stroke-width="1.1"/>
<rect x="125.5" y="583.56" width="41.599999999999994" height="102.64" fill="#fdfb8a" stroke="#4d4d5a" stroke-width="1.1"/>
<rect x="194.4" y="570.39" width="41.19999999999999" height="115.81" fill="#fdfb8a" stroke="#4d4d5a" stroke-width="1.1"/>
<rect x="263.2" y="627.98" width="41.400000000000034" height="58.23" fill="#fdfb8a" stroke="#4d4d5a" stroke-width="1.1"/>
<line x1="77.50" y1="514.10" x2="77.50" y2="524.50" stroke="#444" stroke-width="0.9" stroke-linecap="butt"/>
<line x1="75.10" y1="514.10" x2="79.90" y2="514.10" stroke="#444" stroke-width="0.9" stroke-linecap="butt"/>
<line x1="75.10" y1="524.50" x2="79.90" y2="524.50" stroke="#444" stroke-width="0.9" stroke-linecap="butt"/>
<line x1="146.40" y1="572.90" x2="146.40" y2="593.90" stroke="#444" stroke-width="0.9" stroke-linecap="butt"/>
<line x1="144.00" y1="572.90" x2="148.80" y2="572.90" stroke="#444" stroke-width="0.9" stroke-linecap="butt"/>
<line x1="144.00" y1="593.90" x2="148.80" y2="593.90" stroke="#444" stroke-width="0.9" stroke-linecap="butt"/>
<line x1="215.10" y1="567.20" x2="215.10" y2="572.90" stroke="#444" stroke-width="0.9" stroke-linecap="butt"/>
<line x1="212.70" y1="567.20" x2="217.50" y2="567.20" stroke="#444" stroke-width="0.9" stroke-linecap="butt"/>
<line x1="212.70" y1="572.90" x2="217.50" y2="572.90" stroke="#444" stroke-width="0.9" stroke-linecap="butt"/>
<line x1="284.00" y1="625.40" x2="284.00" y2="629.50" stroke="#444" stroke-width="0.9" stroke-linecap="butt"/>
<line x1="281.60" y1="625.40" x2="286.40" y2="625.40" stroke="#444" stroke-width="0.9" stroke-linecap="butt"/>
<line x1="281.60" y1="629.50" x2="286.40" y2="629.50" stroke="#444" stroke-width="0.9" stroke-linecap="butt"/>
<rect x="43.0" y="484.1" width="275.7" height="202.10000000000002" fill="none" stroke="#333" stroke-width="1.1"/>
<line x1="43.00" y1="675.58" x2="45.60" y2="675.58" stroke="#333" stroke-width="1" stroke-linecap="butt"/>
<line x1="318.70" y1="675.58" x2="316.10" y2="675.58" stroke="#333" stroke-width="1" stroke-linecap="butt"/>
<line x1="43.00" y1="664.95" x2="47.50" y2="664.95" stroke="#333" stroke-width="1" stroke-linecap="butt"/>
<line x1="318.70" y1="664.95" x2="314.20" y2="664.95" stroke="#333" stroke-width="1" stroke-linecap="butt"/>
<line x1="43.00" y1="654.33" x2="45.60" y2="654.33" stroke="#333" stroke-width="1" stroke-linecap="butt"/>
<line x1="318.70" y1="654.33" x2="316.10" y2="654.33" stroke="#333" stroke-width="1" stroke-linecap="butt"/>
<line x1="43.00" y1="643.70" x2="47.50" y2="643.70" stroke="#333" stroke-width="1" stroke-linecap="butt"/>
<line x1="318.70" y1="643.70" x2="314.20" y2="643.70" stroke="#333" stroke-width="1" stroke-linecap="butt"/>
<line x1="43.00" y1="633.08" x2="45.60" y2="633.08" stroke="#333" stroke-width="1" stroke-linecap="butt"/>
<line x1="318.70" y1="633.08" x2="316.10" y2="633.08" stroke="#333" stroke-width="1" stroke-linecap="butt"/>
<line x1="43.00" y1="622.45" x2="47.50" y2="622.45" stroke="#333" stroke-width="1" stroke-linecap="butt"/>
<line x1="318.70" y1="622.45" x2="314.20" y2="622.45" stroke="#333" stroke-width="1" stroke-linecap="butt"/>
<line x1="43.00" y1="611.83" x2="45.60" y2="611.83" stroke="#333" stroke-width="1" stroke-linecap="butt"/>
<line x1="318.70" y1="611.83" x2="316.10" y2="611.83" stroke="#333" stroke-width="1" stroke-linecap="butt"/>
<line x1="43.00" y1="601.20" x2="47.50" y2="601.20" stroke="#333" stroke-width="1" stroke-linecap="butt"/>
<line x1="318.70" y1="601.20" x2="314.20" y2="601.20" stroke="#333" stroke-width="1" stroke-linecap="butt"/>
<line x1="43.00" y1="590.58" x2="45.60" y2="590.58" stroke="#333" stroke-width="1" stroke-linecap="butt"/>
<line x1="318.70" y1="590.58" x2="316.10" y2="590.58" stroke="#333" stroke-width="1" stroke-linecap="butt"/>
<line x1="43.00" y1="579.95" x2="47.50" y2="579.95" stroke="#333" stroke-width="1" stroke-linecap="butt"/>
<line x1="318.70" y1="579.95" x2="314.20" y2="579.95" stroke="#333" stroke-width="1" stroke-linecap="butt"/>
<line x1="43.00" y1="569.33" x2="45.60" y2="569.33" stroke="#333" stroke-width="1" stroke-linecap="butt"/>
<line x1="318.70" y1="569.33" x2="316.10" y2="569.33" stroke="#333" stroke-width="1" stroke-linecap="butt"/>
<line x1="43.00" y1="558.70" x2="47.50" y2="558.70" stroke="#333" stroke-width="1" stroke-linecap="butt"/>
<line x1="318.70" y1="558.70" x2="314.20" y2="558.70" stroke="#333" stroke-width="1" stroke-linecap="butt"/>
<line x1="43.00" y1="548.08" x2="45.60" y2="548.08" stroke="#333" stroke-width="1" stroke-linecap="butt"/>
<line x1="318.70" y1="548.08" x2="316.10" y2="548.08" stroke="#333" stroke-width="1" stroke-linecap="butt"/>
<line x1="43.00" y1="537.45" x2="47.50" y2="537.45" stroke="#333" stroke-width="1" stroke-linecap="butt"/>
<line x1="318.70" y1="537.45" x2="314.20" y2="537.45" stroke="#333" stroke-width="1" stroke-linecap="butt"/>
<line x1="43.00" y1="526.83" x2="45.60" y2="526.83" stroke="#333" stroke-width="1" stroke-linecap="butt"/>
<line x1="318.70" y1="526.83" x2="316.10" y2="526.83" stroke="#333" stroke-width="1" stroke-linecap="butt"/>
<line x1="43.00" y1="516.20" x2="47.50" y2="516.20" stroke="#333" stroke-width="1" stroke-linecap="butt"/>
<line x1="318.70" y1="516.20" x2="314.20" y2="516.20" stroke="#333" stroke-width="1" stroke-linecap="butt"/>
<line x1="43.00" y1="505.58" x2="45.60" y2="505.58" stroke="#333" stroke-width="1" stroke-linecap="butt"/>
<line x1="318.70" y1="505.58" x2="316.10" y2="505.58" stroke="#333" stroke-width="1" stroke-linecap="butt"/>
<line x1="43.00" y1="494.95" x2="47.50" y2="494.95" stroke="#333" stroke-width="1" stroke-linecap="butt"/>
<line x1="318.70" y1="494.95" x2="314.20" y2="494.95" stroke="#333" stroke-width="1" stroke-linecap="butt"/>
<text x="38.60" y="689.30" font-size="8.6" text-anchor="end">0.0</text>
<text x="38.60" y="668.05" font-size="8.6" text-anchor="end">0.1</text>
<text x="38.60" y="646.80" font-size="8.6" text-anchor="end">0.2</text>
<text x="38.60" y="625.55" font-size="8.6" text-anchor="end">0.3</text>
<text x="38.60" y="604.30" font-size="8.6" text-anchor="end">0.4</text>
<text x="38.60" y="583.05" font-size="8.6" text-anchor="end">0.5</text>
<text x="38.60" y="561.80" font-size="8.6" text-anchor="end">0.6</text>
<text x="38.60" y="540.55" font-size="8.6" text-anchor="end">0.7</text>
<text x="38.60" y="519.30" font-size="8.6" text-anchor="end">0.8</text>
<text x="38.60" y="498.05" font-size="8.6" text-anchor="end">0.9</text>
<line x1="61.00" y1="503.50" x2="165.30" y2="503.50" stroke="#4a4a4a" stroke-width="1.8" stroke-linecap="butt"/>
<line x1="190.90" y1="552.70" x2="295.70" y2="552.70" stroke="#4a4a4a" stroke-width="1.8" stroke-linecap="butt"/>
<line x1="117.30" y1="493.10" x2="117.30" y2="498.90" stroke="#111" stroke-width="1.4" stroke-linecap="butt"/>
<line x1="114.79" y1="494.55" x2="119.81" y2="497.45" stroke="#111" stroke-width="1.4" stroke-linecap="butt"/>
<line x1="119.81" y1="494.55" x2="114.79" y2="497.45" stroke="#111" stroke-width="1.4" stroke-linecap="butt"/>
<line x1="247.00" y1="542.50" x2="247.00" y2="548.30" stroke="#111" stroke-width="1.4" stroke-linecap="butt"/>
<line x1="244.49" y1="543.95" x2="249.51" y2="546.85" stroke="#111" stroke-width="1.4" stroke-linecap="butt"/>
<line x1="249.51" y1="543.95" x2="244.49" y2="546.85" stroke="#111" stroke-width="1.4" stroke-linecap="butt"/>
<text x="78.30" y="700.70" font-size="9.0" text-anchor="middle" textLength="45.5" lengthAdjust="spacingAndGlyphs">WT tetramer</text>
<text x="147.00" y="700.70" font-size="9.0" text-anchor="middle" textLength="49.0" lengthAdjust="spacingAndGlyphs">WT aggregate</text>
<text x="216.30" y="700.70" font-size="9.0" text-anchor="middle" textLength="50.9" lengthAdjust="spacingAndGlyphs">L55P tetramer</text>
<text x="285.80" y="700.70" font-size="9.0" text-anchor="middle" textLength="53.8" lengthAdjust="spacingAndGlyphs">L55P aggregate</text>
<text x="21.00" y="591.50" font-size="10.5" text-anchor="middle" textLength="171" lengthAdjust="spacingAndGlyphs" transform="rotate(-90 21 591.5)">Center−position−band−intensity ratio</text>
</svg>
</body></html>
